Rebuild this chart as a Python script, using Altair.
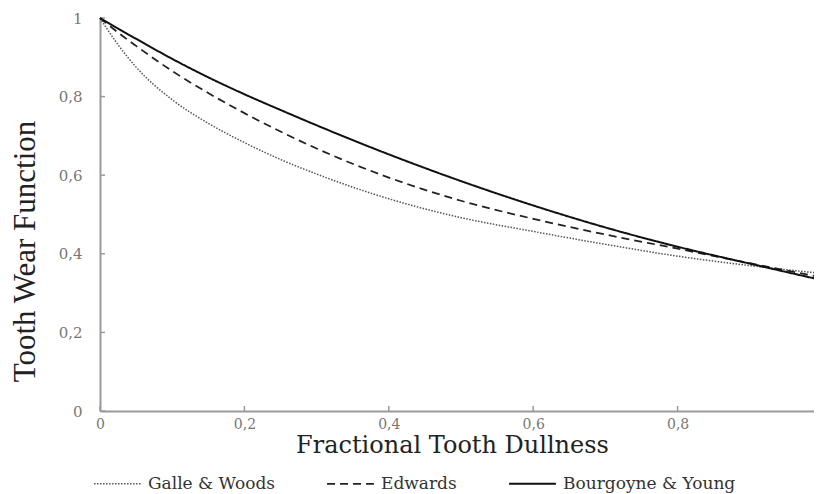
import altair as alt
import pandas as pd

# Fractional tooth dullness
x_vals = [0, 0.025, 0.05, 0.1, 0.15, 0.2, 0.25, 0.3, 0.4, 0.5, 0.6, 0.7, 0.8, 0.9, 1.0]
# Tooth wear function for each model
bourgoyne = [1, 0.973, 0.947, 0.896, 0.849, 0.806, 0.766, 0.727, 0.653, 0.585, 0.523, 0.467, 0.418, 0.375, 0.333]
edwards = [1, 0.963, 0.929, 0.865, 0.809, 0.758, 0.711, 0.668, 0.594, 0.535, 0.489, 0.449, 0.413, 0.376, 0.34]
galle = [1, 0.932, 0.875, 0.792, 0.732, 0.683, 0.640, 0.603, 0.540, 0.492, 0.457, 0.424, 0.394, 0.37, 0.35]

series_names = ["Galle & Woods", "Edwards", "Bourgoyne & Young"]
tick_vals = [0, 0.2, 0.4, 0.6, 0.8, 1.0]

rows = []
for name, vals in zip(series_names, [galle, edwards, bourgoyne]):
    for xv, yv in zip(x_vals, vals):
        rows.append({"x": xv, "y": yv, "model": name})
df = pd.DataFrame(rows)
ticks = pd.DataFrame({"t": tick_vals})

W, H = 722, 393
label_expr = "replace(format(datum.value, '.1~f'), '.', ',')"

xs = alt.Scale(domain=[0, 1], nice=False)
ys = alt.Scale(domain=[0, 1], nice=False)

lines = alt.Chart(df).mark_line(interpolate="monotone").encode(
    x=alt.X("x:Q", scale=xs, axis=alt.Axis(
        values=tick_vals, labelExpr=label_expr, title="Fractional Tooth Dullness",
        grid=False, ticks=False, domainColor="#9a9a9a", domainWidth=2,
        labelFont="DejaVu Serif", labelFontSize=14, labelColor="#777777",
        labelPadding=6, labelFlush=False,
        titleFont="DejaVu Serif", titleFontSize=24, titleFontWeight="normal",
        titleColor="#222222", titleX=352, titleY=41, titleBaseline="alphabetic",
        titleAlign="center")),
    y=alt.Y("y:Q", scale=ys, axis=alt.Axis(
        values=tick_vals, labelExpr=label_expr, title="Tooth Wear Function",
        grid=False, ticks=False, domainColor="#9a9a9a", domainWidth=2,
        labelFont="DejaVu Serif", labelFontSize=15, labelColor="#777777",
        labelPadding=18, labelFlush=False,
        titleFont="Liberation Serif", titleFontSize=31, titleFontWeight="normal",
        titleColor="#222222", titleX=-75, titleY=233, titleAngle=270,
        titleBaseline="middle", titleAlign="center")),
    color=alt.Color("model:N", scale=alt.Scale(domain=series_names,
                    range=["#555555", "#222222", "#111111"]),
                    legend=alt.Legend(title=None, orient="none", direction="horizontal",
                                      legendX=-7, legendY=441,
                                      symbolType="stroke", symbolSize=2200,
                                      symbolStrokeWidth=2, columnPadding=48,
                                      labelFont="DejaVu Serif", labelFontSize=17,
                                      labelColor="#333333", labelOffset=6,
                                      labelLimit=400, padding=0)),
    strokeDash=alt.StrokeDash("model:N", scale=alt.Scale(domain=series_names,
                              range=[[1.5, 1.5], [8, 5], [1, 0]]),
                              legend=alt.Legend(title=None)),
    strokeWidth=alt.StrokeWidth("model:N", scale=alt.Scale(domain=series_names,
                                range=[1.5, 2, 2]), legend=None),
    order=alt.Order("x:Q"),
)

ytick = alt.Chart(ticks).mark_rule(color="#9a9a9a", strokeWidth=1.5).encode(
    y=alt.Y("t:Q", scale=ys), x=alt.value(0), x2=alt.value(5))
xtick = alt.Chart(ticks).mark_rule(color="#9a9a9a", strokeWidth=1.5).encode(
    x=alt.X("t:Q", scale=xs), y=alt.value(H), y2=alt.value(H - 5))

chart = alt.layer(ytick, xtick, lines).properties(
    width=W, height=H,
    autosize=alt.AutoSizeParams(type="none"),
    padding={"left": 92, "top": 10, "right": -8, "bottom": 83},
    background="white",
).configure_view(stroke=None)

chart.save("out.html", embed_options={"renderer": "svg", "actions": False})
